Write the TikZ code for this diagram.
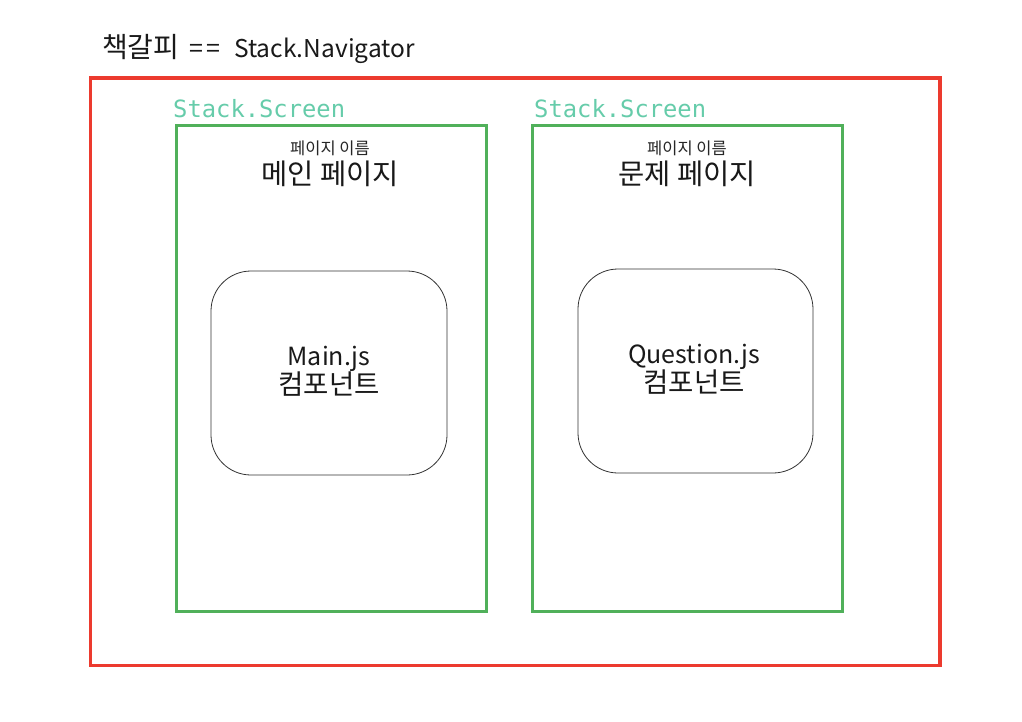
\documentclass[tikz,border=0pt]{standalone}
\usepackage{fontspec}
\setmainfont{Noto Sans CJK KR}
\newfontfamily\monofnt{DejaVu Sans Mono}
\definecolor{navred}{RGB}{236,58,46}
\definecolor{scrgreen}{RGB}{80,176,90}
\definecolor{lblteal}{RGB}{102,204,170}
\tikzset{
  navbox/.style={draw=navred, line width=3.8pt},
  scrbox/.style={draw=scrgreen, line width=3.8pt},
  compbox/.style={draw=black!80, line width=0.8pt, rounded corners=40pt},
  scrlabel/.style={anchor=base west, inner sep=0pt, text=lblteal, font=\monofnt\fontsize{23.8}{26}\selectfont},
  smalltxt/.style={inner sep=0pt, font=\fontsize{16.5}{18}\selectfont, text=black!85},
  bigtxt/.style={inner sep=0pt, font=\fontsize{28.5}{32}\selectfont, text=black!90},
  comptxt/.style={inner sep=0pt, text=black!90},
  latfont/.style={font=\fontsize{25}{28}\selectfont},
  korfont/.style={font=\fontsize{27.5}{30}\selectfont},
}
\begin{document}
\begin{tikzpicture}[x=1pt,y=-1pt]
\useasboundingbox (0,0) rectangle (1022,722);
\fill[white] (0,0) rectangle (1022,722);
% title
\node[anchor=base west, inner sep=0pt, font=\fontsize{28}{30}\selectfont, text=black!90] (t1) at (102,58) {책갈피};
\node[anchor=base west, inner sep=0pt, font=\fontsize{25}{28}\selectfont, text=black!90] (t2) at (189,58) {=\kern3pt=};
\node[anchor=base west, inner sep=0pt, font=\fontsize{24.5}{28}\selectfont, text=black!90] (t3) at (234,58) {Stack.Navigator};
\draw[navbox] (90.5,78) rectangle (940,665.5);
% screen 1
\node[scrlabel] (lbl1) at (173,118) {Stack.Screen};
\draw[scrbox] (176.5,125.5) rectangle (486.5,611.5);
\node[smalltxt] (pn1) at (330,148) {페이지 이름};
\node[bigtxt] (pt1) at (330,174) {메인 페이지};
\node[compbox, minimum width=236pt, minimum height=204pt] (c1) at (329,373) {};
\node[comptxt, latfont, anchor=base] (ct1a) at (329,365) {Main.js};
\node[comptxt, korfont, anchor=base] (ct1b) at (329,394) {컴포넌트};
% screen 2
\node[scrlabel] (lbl2) at (534,118) {Stack.Screen};
\draw[scrbox] (532.5,125.5) rectangle (842.5,611.5);
\node[smalltxt] (pn2) at (687,148) {페이지 이름};
\node[bigtxt] (pt2) at (687,174) {문제 페이지};
\node[compbox, minimum width=235pt, minimum height=204pt] (c2) at (695.5,371) {};
\node[comptxt, latfont, anchor=base] (ct2a) at (694,363) {Question.js};
\node[comptxt, korfont, anchor=base] (ct2b) at (694,392) {컴포넌트};
\end{tikzpicture}
\end{document}
